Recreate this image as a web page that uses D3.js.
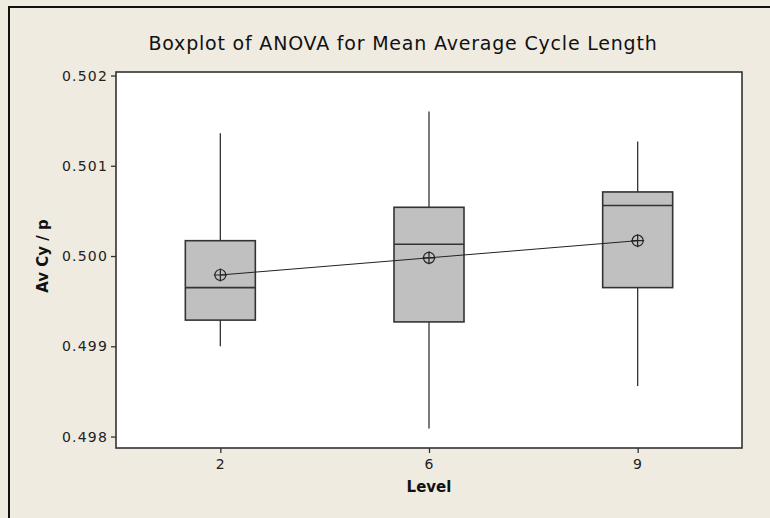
<!DOCTYPE html>
<html>
<head>
<meta charset="utf-8">
<script src="https://cdn.jsdelivr.net/npm/d3@7"></script>
<style>
  html, body { margin: 0; padding: 0; background: #efebe1; }
  svg { display: block; }
  .axis text { font-family: "DejaVu Sans", sans-serif; font-size: 14px; letter-spacing: 1.2px; fill: #222; }
  .axis path, .axis line { stroke: #333; stroke-width: 1.3; }
</style>
</head>
<body>
<svg id="chart" width="770" height="518"></svg>
<script>
const levels = ['2', '6', '9'];
const whiskerLow = [0.49900, 0.49809, 0.49856];
const q1 = [0.49929, 0.49927, 0.49965];
const median = [0.49965, 0.50013, 0.50056];
const q3 = [0.50017, 0.50054, 0.50071];
const whiskerHigh = [0.50136, 0.50160, 0.50127];
const means = [0.49979, 0.49998, 0.50017];
const yTicks = [0.498, 0.499, 0.500, 0.501, 0.502];

const width = 770;
const height = 518;
const padding = { top: 72, left: 116, bottom: 70, right: 28 };
const canvasWidth = width - padding.left - padding.right;
const canvasHeight = height - padding.top - padding.bottom;
const boxWidth = 70;

const svg = d3.select('#chart');

// outer frame (left and top edge only, the rest is cropped)
svg.append('path')
  .attr('d', `M9,${height} V7 H${width}`)
  .attr('fill', 'none')
  .attr('stroke', '#111')
  .attr('stroke-width', 2);

const xScale = d3.scalePoint().domain(levels).range([0, canvasWidth]).padding(0.5);
const yScale = d3.scaleLinear().domain([0.497873, 0.502039]).range([canvasHeight, 0]);

const canvas = svg.append('g').attr('transform', `translate(${padding.left},${padding.top})`);

canvas.append('rect')
  .attr('width', canvasWidth)
  .attr('height', canvasHeight)
  .attr('fill', '#fff');

const xAxis = d3.axisBottom(xScale).tickSizeOuter(0).tickSizeInner(5).tickPadding(6);
const yAxis = d3.axisLeft(yScale).tickValues(yTicks).tickFormat(d3.format('.3f')).tickSizeOuter(0).tickSizeInner(5).tickPadding(3);

canvas.append('g').attr('class', 'axis').attr('transform', `translate(0,${canvasHeight})`).call(xAxis)
  .call(g => g.select('.domain').remove());
canvas.append('g').attr('class', 'axis').call(yAxis)
  .call(g => g.select('.domain').remove());

const data = levels.map((lv, i) => ({
  level: lv,
  lo: whiskerLow[i], q1: q1[i], med: median[i], q3: q3[i], hi: whiskerHigh[i], mean: means[i]
}));

const boxes = canvas.selectAll('g.box').data(data).enter().append('g')
  .attr('class', 'box')
  .attr('transform', d => `translate(${xScale(d.level)},0)`);

boxes.append('line')
  .attr('y1', d => yScale(d.hi)).attr('y2', d => yScale(d.q3))
  .attr('stroke', '#333').attr('stroke-width', 1.3);
boxes.append('line')
  .attr('y1', d => yScale(d.q1)).attr('y2', d => yScale(d.lo))
  .attr('stroke', '#333').attr('stroke-width', 1.3);
boxes.append('rect')
  .attr('x', -boxWidth / 2)
  .attr('width', boxWidth)
  .attr('y', d => yScale(d.q3))
  .attr('height', d => yScale(d.q1) - yScale(d.q3))
  .attr('fill', '#c0c0c0')
  .attr('stroke', '#333').attr('stroke-width', 1.6);
boxes.append('line')
  .attr('x1', -boxWidth / 2).attr('x2', boxWidth / 2)
  .attr('y1', d => yScale(d.med)).attr('y2', d => yScale(d.med))
  .attr('stroke', '#333').attr('stroke-width', 1.6);

// mean connect line
canvas.append('path')
  .datum(data)
  .attr('d', d3.line().x(d => xScale(d.level)).y(d => yScale(d.mean)))
  .attr('fill', 'none')
  .attr('stroke', '#222')
  .attr('stroke-width', 1);

const symbols = canvas.selectAll('g.mean').data(data).enter().append('g')
  .attr('class', 'mean')
  .attr('transform', d => `translate(${xScale(d.level)},${yScale(d.mean)})`);
symbols.append('circle').attr('r', 5.5).attr('fill', 'none').attr('stroke', '#222').attr('stroke-width', 1.2);
symbols.append('path').attr('d', 'M-6.5,0H6.5M0,-6.5V6.5').attr('stroke', '#222').attr('stroke-width', 1.2);

// plot frame
canvas.append('rect')
  .attr('width', canvasWidth)
  .attr('height', canvasHeight)
  .attr('fill', 'none')
  .attr('stroke', '#333')
  .attr('stroke-width', 1.6);

svg.append('text')
  .attr('x', padding.left + canvasWidth / 2 - 26)
  .attr('y', 50)
  .attr('text-anchor', 'middle')
  .attr('font-family', 'DejaVu Sans, sans-serif')
  .attr('font-size', 19)
  .attr('letter-spacing', 0.8)
  .attr('fill', '#111')
  .text('Boxplot of ANOVA for Mean Average Cycle Length');

svg.append('text')
  .attr('x', padding.left + canvasWidth / 2)
  .attr('y', 492)
  .attr('text-anchor', 'middle')
  .attr('font-family', 'DejaVu Sans, sans-serif')
  .attr('font-weight', 'bold')
  .attr('font-size', 15)
  .attr('fill', '#111')
  .text('Level');

svg.append('text')
  .attr('transform', `translate(48,${yScale(0.5) + padding.top}) rotate(-90)`)
  .attr('text-anchor', 'middle')
  .attr('font-family', 'DejaVu Sans, sans-serif')
  .attr('font-weight', 'bold')
  .attr('font-size', 15)
  .attr('fill', '#111')
  .text('Av Cy / p');
</script>
</body>
</html>
